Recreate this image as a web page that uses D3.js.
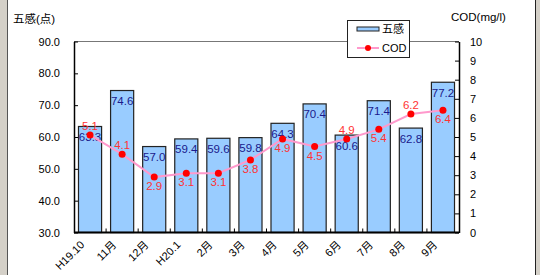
<!DOCTYPE html>
<html>
<head>
<meta charset="utf-8">
<script src="https://cdn.jsdelivr.net/npm/d3@7"></script>
<style>
  body { margin: 0; background: #fff; }
  svg text { font-family: "Liberation Sans", Arial, "Noto Sans CJK JP", sans-serif; }
</style>
</head>
<body>
<div id="chart"></div>
<script>
const months = ["H19.10", "11月", "12月", "H20.1", "2月", "3月", "4月", "5月", "6月", "7月", "8月", "9月"];
const gokan = [63.3, 74.6, 57.0, 59.4, 59.6, 59.8, 64.3, 70.4, 60.6, 71.4, 62.8, 77.2];
const cod = [5.1, 4.1, 2.9, 3.1, 3.1, 3.8, 4.9, 4.5, 4.9, 5.4, 6.2, 6.4];
// which COD labels sit above the dot
const codAbove = [true, true, false, false, false, false, false, false, true, false, true, false];
const leftTicks = [30, 40, 50, 60, 70, 80, 90];
const rightTicks = [0, 1, 2, 3, 4, 5, 6, 7, 8, 9, 10];

const width = 540;
const height = 275;
const plotLeft = 74, plotRight = 459, plotTop = 41.5, plotBottom = 232.5;

const svg = d3.select("#chart").append("svg")
  .attr("width", width)
  .attr("height", height);

// window frame
svg.append("rect").attr("x", 0).attr("y", 0).attr("width", 7).attr("height", height).attr("fill", "#d4d0c8");
svg.append("line").attr("x1", 7.5).attr("x2", 7.5).attr("y1", 0).attr("y2", height).attr("stroke", "#555");
svg.append("rect").attr("x", 536).attr("y", 0).attr("width", 4).attr("height", height).attr("fill", "#d4d0c8");
svg.append("line").attr("x1", 535.5).attr("x2", 535.5).attr("y1", 0).attr("y2", height).attr("stroke", "#222");

const x = d3.scaleBand().domain(months).range([plotLeft, plotRight]).paddingInner(0.28).paddingOuter(0.14);
const yL = d3.scaleLinear().domain([30, 90]).range([plotBottom, plotTop]);
const yR = d3.scaleLinear().domain([0, 10]).range([plotBottom, plotTop]);

// plot top border
svg.append("line").attr("x1", plotLeft).attr("x2", plotRight).attr("y1", plotTop).attr("y2", plotTop)
  .attr("stroke", "#777").attr("stroke-width", 1);

// bars
svg.append("g").selectAll("rect")
  .data(gokan)
  .join("rect")
  .attr("x", (d, i) => x(months[i]))
  .attr("y", d => yL(d))
  .attr("width", x.bandwidth())
  .attr("height", d => yL(30) - yL(d))
  .attr("fill", "#99ccff")
  .attr("stroke", "#222")
  .attr("stroke-width", 1.2);

svg.append("g").selectAll("text")
  .data(gokan)
  .join("text")
  .attr("x", (d, i) => x(months[i]) + x.bandwidth() / 2)
  .attr("y", d => yL(d) + 14.5)
  .attr("text-anchor", "middle")
  .attr("font-size", 11.5)
  .attr("fill", "#1a1a8c")
  .text(d => d.toFixed(1));

// COD line
const cx = (d, i) => x(months[i]) + x.bandwidth() / 2;
svg.append("path")
  .datum(cod)
  .attr("d", d3.line().x(cx).y(d => yR(d)))
  .attr("fill", "none")
  .attr("stroke", "#ff99cc")
  .attr("stroke-width", 2);

svg.append("g").selectAll("circle")
  .data(cod)
  .join("circle")
  .attr("cx", cx)
  .attr("cy", d => yR(d))
  .attr("r", 3.5)
  .attr("fill", "#ff0000");

svg.append("g").selectAll("text")
  .data(cod)
  .join("text")
  .attr("x", cx)
  .attr("y", (d, i) => yR(d) + (codAbove[i] ? -5 : 13))
  .attr("text-anchor", "middle")
  .attr("font-size", 11.5)
  .attr("fill", "#ff3333")
  .text(d => d.toFixed(1));

// axes
const gl = svg.append("g").attr("transform", `translate(${plotLeft},0)`)
  .call(d3.axisLeft(yL).tickValues(leftTicks).tickFormat(d3.format(".1f")).tickSizeInner(-4).tickSizeOuter(0).tickPadding(14));
const gr = svg.append("g").attr("transform", `translate(${plotRight},0)`)
  .call(d3.axisRight(yR).tickValues(rightTicks).tickSizeInner(-4).tickSizeOuter(0).tickPadding(11));
[gl, gr].forEach(g => {
  g.select(".domain").attr("stroke", "#000").attr("stroke-width", 1.5);
  g.selectAll(".tick line").attr("stroke", "#000");
  g.selectAll(".tick text").attr("font-size", 11).attr("fill", "#000")
    .style("font-family", "'Liberation Sans', Arial, sans-serif");
});

// x axis
svg.append("line").attr("x1", plotLeft).attr("x2", plotRight).attr("y1", plotBottom).attr("y2", plotBottom)
  .attr("stroke", "#000").attr("stroke-width", 2);
const step = x.step();
svg.append("g").selectAll("line")
  .data(months.slice(0, -1))
  .join("line")
  .attr("x1", d => x(d) + x.bandwidth() + (step - x.bandwidth()) / 2)
  .attr("x2", d => x(d) + x.bandwidth() + (step - x.bandwidth()) / 2)
  .attr("y1", plotBottom)
  .attr("y2", plotBottom - 4)
  .attr("stroke", "#000");

svg.append("g").selectAll("text")
  .data(months)
  .join("text")
  .attr("transform", d => `translate(${x(d) + x.bandwidth() / 2 - 5},${plotBottom + 13}) rotate(-45)`)
  .attr("text-anchor", "end")
  .attr("font-size", 11)
  .attr("fill", "#000")
  .text(d => d);

// axis titles
svg.append("text").attr("x", 13).attr("y", 23).attr("font-size", 11.5).text("五感(点)");
svg.append("text").attr("x", 451).attr("y", 21).attr("font-size", 11.5).text("COD(mg/l)");

// legend
const lg = svg.append("g");
lg.append("rect").attr("x", 347.5).attr("y", 20.5).attr("width", 62).attr("height", 37)
  .attr("fill", "#fff").attr("stroke", "#222");
lg.append("rect").attr("x", 357).attr("y", 27).attr("width", 22).attr("height", 4)
  .attr("fill", "#99ccff").attr("stroke", "#222");
lg.append("text").attr("x", 382).attr("y", 33).attr("font-size", 11).text("五感");
lg.append("line").attr("x1", 357).attr("x2", 379).attr("y1", 48).attr("y2", 48)
  .attr("stroke", "#ff99cc").attr("stroke-width", 2);
lg.append("circle").attr("cx", 368).attr("cy", 48).attr("r", 3).attr("fill", "#ff0000");
lg.append("text").attr("x", 382).attr("y", 52).attr("font-size", 11).text("COD");
</script>
</body>
</html>
